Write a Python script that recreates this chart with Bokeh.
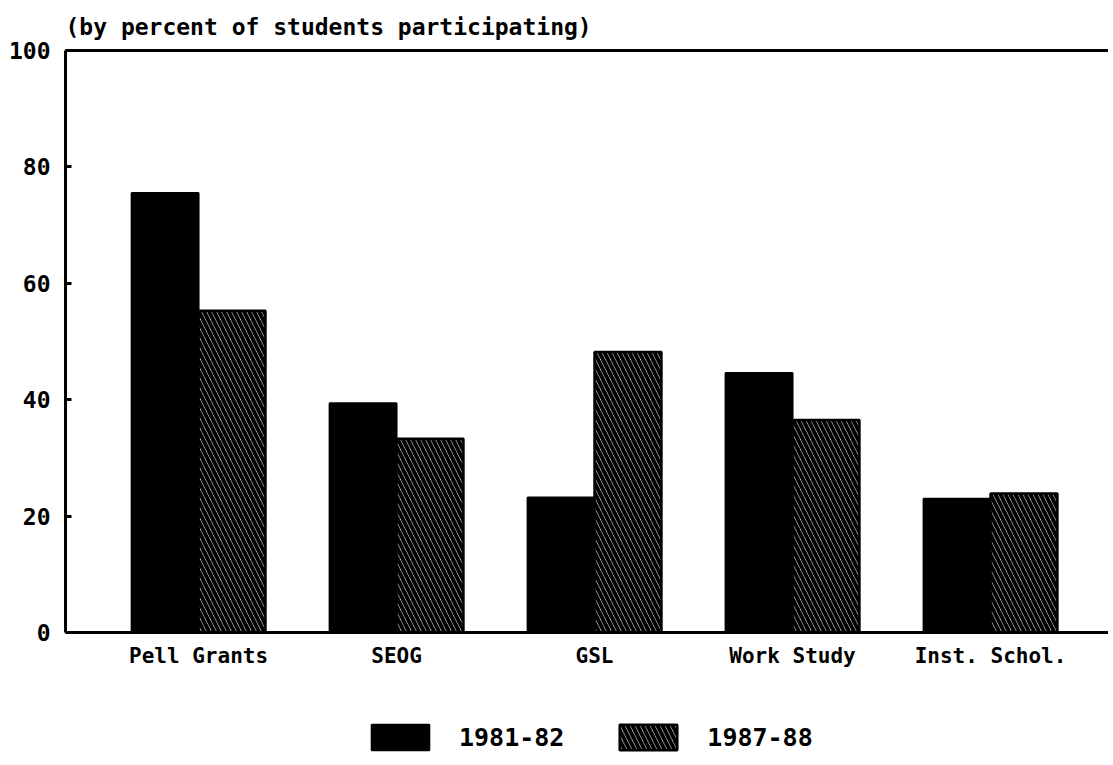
from bokeh.plotting import figure
from bokeh.layouts import column
from bokeh.models import (Range1d, LinearAxis, FixedTicker, Legend, LegendItem,
                          ColumnDataSource)
from bokeh.transform import dodge
from bokeh.embed import file_html
from bokeh.resources import INLINE

# ---- data ----
categories = ["Pell Grants", "SEOG", "GSL", "Work Study", "Inst. Schol."]
values_1981 = [75.5, 39.4, 23.2, 44.6, 23.0]
values_1987 = [55.3, 33.3, 48.2, 36.5, 23.9]
y_ticks = [0, 20, 40, 60, 80, 100]
grid_ticks = [20, 40, 60, 80]
series_labels = ["1981-82", "1987-88"]
title_text = "(by percent of students participating)"

FONT = "DejaVu Sans Mono"
positions = list(range(len(categories)))
src = ColumnDataSource(dict(pos=positions, cat=categories,
                            v1=values_1981, v2=values_1987))

x_range = Range1d(-0.672, 4.596)
bw = 0.338
black_style = dict(fill_color="black", line_color="black", line_width=2)
hatch_style = dict(fill_color="white", line_color="black", line_width=2.5,
                   hatch_pattern="\\", hatch_color="black", hatch_scale=10,
                   hatch_weight=4)

p = figure(frame_width=1043, frame_height=582,
           x_range=x_range, y_range=Range1d(0, 100),
           output_backend="svg", toolbar_location=None,
           x_axis_type=None, y_axis_type=None,
           min_border_left=65, min_border_right=0, min_border_top=50,
           min_border_bottom=60)
p.outline_line_color = None
p.background_fill_color = "white"
p.border_fill_color = "white"

# title
p.title.text = title_text
p.title.text_font = FONT
p.title.text_font_style = "bold"
p.title.text_font_size = "23px"
p.title.align = "left"
p.title.standoff = 22
p.title.offset = 0
p.title.text_color = "black"

# bars
r1 = p.vbar(x=dodge("pos", -bw / 2, range=x_range), top="v1", width=bw,
            source=src, **black_style)
r2 = p.vbar(x=dodge("pos", bw / 2, range=x_range), top="v2", width=bw,
            source=src, **hatch_style)

# left axis
yaxis = LinearAxis(ticker=FixedTicker(ticks=y_ticks))
yaxis.axis_line_width = 3
yaxis.axis_line_color = "black"
yaxis.major_tick_in = 6
yaxis.major_tick_out = 0
yaxis.major_tick_line_width = 3
yaxis.minor_tick_line_color = None
yaxis.major_label_standoff = 15
yaxis.major_label_text_font = FONT
yaxis.major_label_text_font_style = "bold"
yaxis.major_label_text_font_size = "23px"
yaxis.major_label_text_color = "black"
p.add_layout(yaxis, "left")

# top border (axis with no ticks)
top = LinearAxis(ticker=FixedTicker(ticks=[]))
top.axis_line_width = 3
top.axis_line_color = "black"
top.major_tick_line_color = None
top.minor_tick_line_color = None
top.major_label_text_font_size = "0px"
p.add_layout(top, "above")

# bottom axis with category labels
xaxis = LinearAxis(ticker=FixedTicker(ticks=positions))
xaxis.major_label_overrides = {i: c for i, c in zip(positions, categories)}
xaxis.axis_line_width = 3
xaxis.axis_line_color = "black"
xaxis.major_tick_line_color = None
xaxis.minor_tick_line_color = None
xaxis.major_label_standoff = 5
xaxis.major_label_text_font = FONT
xaxis.major_label_text_font_style = "bold"
xaxis.major_label_text_font_size = "21px"
xaxis.major_label_text_color = "black"
p.add_layout(xaxis, "below")

# grid
p.ygrid.ticker = FixedTicker(ticks=grid_ticks)
p.ygrid.grid_line_color = "#444444"
p.ygrid.grid_line_dash = "1 3"
p.ygrid.grid_line_width = 1
p.xgrid.grid_line_color = None

# ---- legend strip (separate figure below the chart) ----
# swatch-only renderers: one entry per series with no drawable height
swatch_src = ColumnDataSource(dict(pos=[0], top=[float("nan")]))
lf = figure(frame_width=1043, frame_height=70,
            x_range=x_range, y_range=Range1d(0, 100),
            output_backend="svg", toolbar_location=None,
            x_axis_type=None, y_axis_type=None,
            min_border_left=65, min_border_right=0, min_border_top=0,
            min_border_bottom=0)
lf.outline_line_color = None
lf.grid.visible = False
lf.background_fill_color = "white"
lf.border_fill_color = "white"
l1 = lf.vbar(x="pos", top="top", width=bw, source=swatch_src, **black_style)
l2 = lf.vbar(x="pos", top="top", width=bw, source=swatch_src, **hatch_style)

legend = Legend(items=[LegendItem(label=series_labels[0], renderers=[l1]),
                       LegendItem(label=series_labels[1], renderers=[l2])],
                orientation="horizontal", location=(299, 9),
                glyph_width=72, glyph_height=32, label_standoff=23,
                spacing=48, padding=10, margin=0,
                border_line_color=None, background_fill_alpha=0)
legend.label_text_font = FONT
legend.label_text_font_style = "bold"
legend.label_text_font_size = "25px"
legend.label_text_color = "black"
lf.add_layout(legend)

layout = column(p, lf, spacing=0)
open("out.html", "w").write(file_html(layout, INLINE))
